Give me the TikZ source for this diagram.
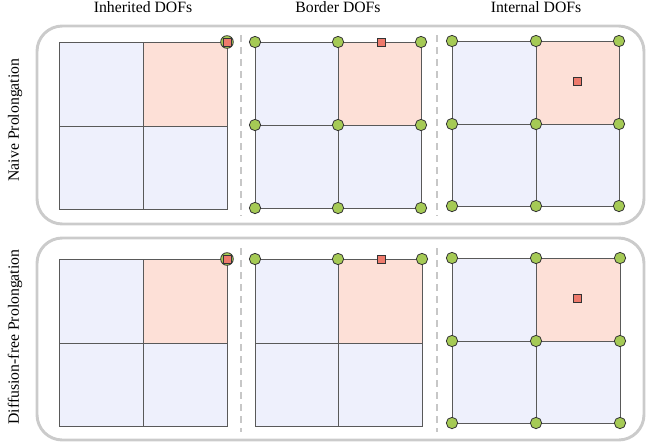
\documentclass[tikz,border=0pt]{standalone}
\usepackage{fontspec}
\setmainfont{Liberation Serif}
\definecolor{celda}{HTML}{EEF0FC}
\definecolor{celdaroja}{HTML}{FDE0D7}
\definecolor{verde}{HTML}{A5CA55}
\definecolor{rojo}{HTML}{EE7A6C}
\definecolor{marco}{HTML}{CBCBCB}
\tikzset{
  malla/.style={draw=black!65, line width=0.75pt},
  dof/.style={circle, draw=black!80, fill=verde, line width=0.6pt, minimum size=8.5pt, inner sep=0pt},
  dofrojo/.style={rectangle, draw=black!80, fill=rojo, line width=0.6pt, minimum size=6pt, inner sep=0pt},
  panel/.style={draw=marco, line width=2.2pt, rounded corners=19pt},
  separador/.style={draw=black!22, dash pattern=on 5.25pt off 3.75pt, line width=1.4pt},
  titulo/.style={font=\fontsize{11.8}{14}\selectfont},
}
\begin{document}
\begin{tikzpicture}[x=0.75pt, y=-0.75pt]
    \useasboundingbox (0,0) rectangle (647,444);
    % Titulos
    \node[titulo] (tinh) at (143,7) {Inherited DOFs};
    \node[titulo] (tbor) at (338,7) {Border DOFs};
    \node[titulo] (tint) at (536,7) {Internal DOFs};
    \node[titulo, rotate=90] (tnai) at (15,120) {Naive Prolongation};
    \node[titulo, rotate=90] (tdif) at (15,337) {Diffusion-free Prolongation};
    % Marcos y separadores
    \draw[panel] (37,26) rectangle (644,224);
    \draw[panel] (37,238) rectangle (644,440);
    \draw[separador] (241,35) -- (241,216);
    \draw[separador] (437,35) -- (437,216);
    \draw[separador] (241,248) -- (241,432);
    \draw[separador] (437,248) -- (437,432);
    % Mallas de arriba
    \filldraw[malla, fill=celda] (59,42) rectangle (227,209);
    \filldraw[malla, fill=celdaroja] (143,42) rectangle (227,126);
    \draw[malla] (143,42) -- (143,209) (59,126) -- (227,126);
    \filldraw[malla, fill=celda] (255,42) rectangle (421,208);
    \filldraw[malla, fill=celdaroja] (338,42) rectangle (421,125);
    \draw[malla] (338,42) -- (338,208) (255,125) -- (421,125);
    \filldraw[malla, fill=celda] (452,41) rectangle (619,206);
    \filldraw[malla, fill=celdaroja] (536,41) rectangle (619,124);
    \draw[malla] (536,41) -- (536,206) (452,124) -- (619,124);
    % Mallas de abajo
    \filldraw[malla, fill=celda] (59,259) rectangle (227,426);
    \filldraw[malla, fill=celdaroja] (143,259) rectangle (227,343);
    \draw[malla] (143,259) -- (143,426) (59,343) -- (227,343);
    \filldraw[malla, fill=celda] (255,259) rectangle (422,426);
    \filldraw[malla, fill=celdaroja] (338,259) rectangle (422,343);
    \draw[malla] (338,259) -- (338,426) (255,343) -- (422,343);
    \filldraw[malla, fill=celda] (452,258) rectangle (620,423);
    \filldraw[malla, fill=celdaroja] (536,258) rectangle (620,341);
    \draw[malla] (536,258) -- (536,423) (452,341) -- (620,341);
    % DOFs heredados
    \node[dof, minimum size=9.5pt] (ha) at (227,42) {};
    \node[dofrojo] (hra) at (227,42) {};
    \node[dof, minimum size=9.5pt] (hb) at (227,259) {};
    \node[dofrojo] (hrb) at (227,259) {};
    % DOFs de borde, arriba
    \node[dof] (ba1) at (255,42) {};  \node[dof] (ba2) at (338,42) {};  \node[dof] (ba3) at (421,42) {};
    \node[dof] (ba4) at (255,125) {}; \node[dof] (ba5) at (338,125) {}; \node[dof] (ba6) at (421,125) {};
    \node[dof] (ba7) at (255,208) {}; \node[dof] (ba8) at (338,208) {}; \node[dof] (ba9) at (421,208) {};
    \node[dofrojo] (bra) at (381,42) {};
    % DOFs de borde, abajo
    \node[dof] (bb1) at (255,259) {}; \node[dof] (bb2) at (338,259) {}; \node[dof] (bb3) at (422,259) {};
    \node[dofrojo] (brb) at (381,259) {};
    % DOFs internos, arriba
    \node[dof] (ia1) at (452,41) {};  \node[dof] (ia2) at (536,41) {};  \node[dof] (ia3) at (619,41) {};
    \node[dof] (ia4) at (452,124) {}; \node[dof] (ia5) at (536,124) {}; \node[dof] (ia6) at (619,124) {};
    \node[dof] (ia7) at (452,206) {}; \node[dof] (ia8) at (536,206) {}; \node[dof] (ia9) at (619,206) {};
    \node[dofrojo] (ira) at (577,81) {};
    % DOFs internos, abajo
    \node[dof] (ib1) at (452,258) {}; \node[dof] (ib2) at (536,258) {}; \node[dof] (ib3) at (620,258) {};
    \node[dof] (ib4) at (452,341) {}; \node[dof] (ib5) at (536,341) {}; \node[dof] (ib6) at (620,341) {};
    \node[dof] (ib7) at (452,423) {}; \node[dof] (ib8) at (536,423) {}; \node[dof] (ib9) at (620,423) {};
    \node[dofrojo] (irb) at (577,298) {};
\end{tikzpicture}
\end{document}
